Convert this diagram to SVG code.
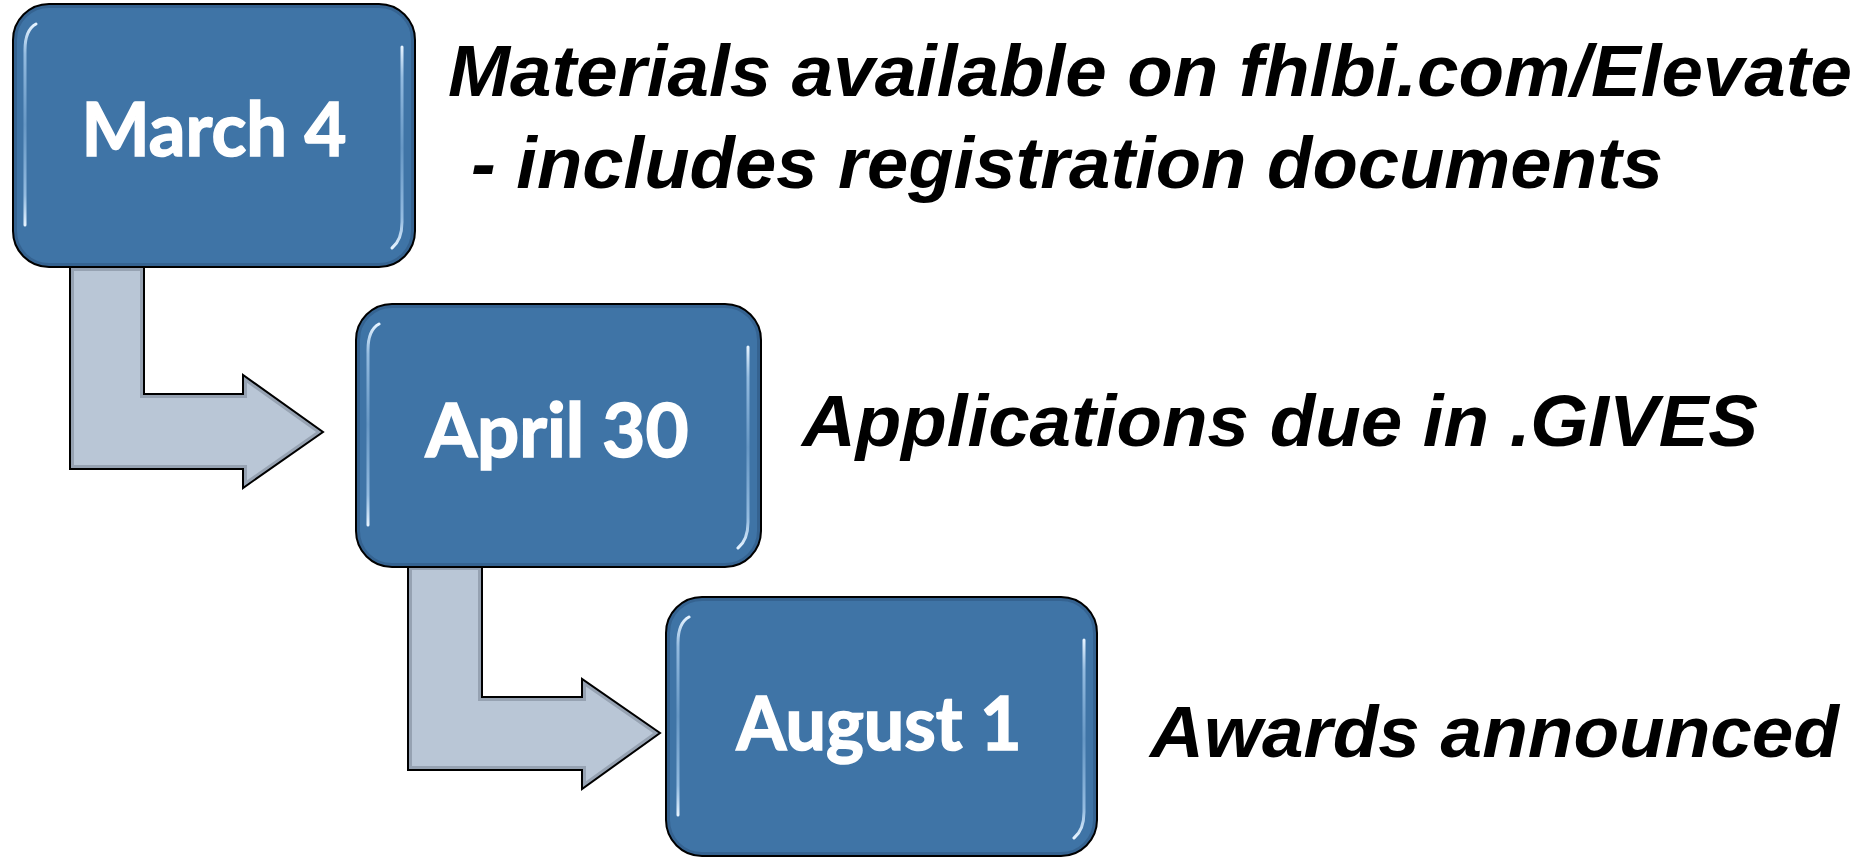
<svg xmlns="http://www.w3.org/2000/svg" width="1862" height="858" viewBox="0 0 1862 858">
<style>
.box{fill:#3F74A6;}
.boxline{fill:none;stroke:#000;stroke-width:2;}
.boxbevel{fill:none;stroke:#2d5680;stroke-width:8;opacity:0.55;}
.hl{fill:none;stroke:url(#hlg);stroke-width:3;stroke-linecap:round;}
.arrow{fill:#B9C6D6;}
.arrowbevel{fill:none;stroke:#7f8b9a;stroke-width:8;opacity:0.6;}
.arrowline{fill:none;stroke:#000;stroke-width:2;stroke-linejoin:miter;}
.lbl{font-family:Lato,"Open Sans","Liberation Sans",sans-serif;font-weight:700;font-size:74px;fill:#fff;stroke:#fff;stroke-width:1.6;text-anchor:middle;}
.desc{font-family:"Liberation Sans",Arial,sans-serif;font-weight:700;font-style:italic;font-size:73px;fill:#000;}
</style>
<defs>
<linearGradient id="hlg" x1="0" y1="0" x2="0" y2="1">
<stop offset="0" stop-color="#e6f3ff" stop-opacity="1"/>
<stop offset="0.15" stop-color="#a9cdee" stop-opacity="0.8"/>
<stop offset="0.5" stop-color="#8fbbe3" stop-opacity="0.5"/>
<stop offset="0.85" stop-color="#a9cdee" stop-opacity="0.8"/>
<stop offset="1" stop-color="#e6f3ff" stop-opacity="1"/>
</linearGradient>
<clipPath id="c1"><rect x="13" y="4" width="402" height="263" rx="36"/></clipPath>
<clipPath id="c2"><rect x="356" y="304" width="405" height="263" rx="36"/></clipPath>
<clipPath id="c3"><rect x="666" y="597" width="431" height="259" rx="36"/></clipPath>
<clipPath id="ca1"><path d="M70,267 L144,267 L144,394 L243,394 L243,375 L323,432 L243,488 L243,469 L70,469 Z"/></clipPath>
<clipPath id="ca2"><path d="M408,566 L482,566 L482,697 L582,697 L582,679 L660,733 L582,789 L582,770 L408,770 Z"/></clipPath>
</defs>

<g id="connectors">
<g id="arrow1">
<path class="arrow" d="M70,267 L144,267 L144,394 L243,394 L243,375 L323,432 L243,488 L243,469 L70,469 Z"/>
<path class="arrowbevel" clip-path="url(#ca1)" d="M70,267 L144,267 L144,394 L243,394 L243,375 L323,432 L243,488 L243,469 L70,469 Z"/>
<path class="arrowline" d="M70,267 L70,469 L243,469 L243,488 L323,432 L243,375 L243,394 L144,394 L144,267"/>
</g>
<g id="arrow2">
<path class="arrow" d="M408,566 L482,566 L482,697 L582,697 L582,679 L660,733 L582,789 L582,770 L408,770 Z"/>
<path class="arrowbevel" clip-path="url(#ca2)" d="M408,566 L482,566 L482,697 L582,697 L582,679 L660,733 L582,789 L582,770 L408,770 Z"/>
<path class="arrowline" d="M408,566 L408,770 L582,770 L582,789 L660,733 L582,679 L582,697 L482,697 L482,566"/>
</g>
</g>

<g id="node-march4">
<rect class="box" x="13" y="4" width="402" height="263" rx="36"/>
<rect class="boxbevel" clip-path="url(#c1)" x="13" y="4" width="402" height="263" rx="36"/>
<path class="hl" d="M36,24 Q25,30 25,50 L25,225"/>
<path class="hl" d="M402,47 L402,222 Q402,240 392,248"/>
<rect class="boxline" x="13" y="4" width="402" height="263" rx="36"/>
<text class="lbl" x="214" y="156" textLength="265" lengthAdjust="spacingAndGlyphs">March 4</text>
</g>

<g id="node-april30">
<rect class="box" x="356" y="304" width="405" height="263" rx="36"/>
<rect class="boxbevel" clip-path="url(#c2)" x="356" y="304" width="405" height="263" rx="36"/>
<path class="hl" d="M379,324 Q368,330 368,350 L368,525"/>
<path class="hl" d="M748,347 L748,522 Q748,540 738,548"/>
<rect class="boxline" x="356" y="304" width="405" height="263" rx="36"/>
<text class="lbl" x="557" y="457" textLength="263" lengthAdjust="spacingAndGlyphs">April 30</text>
</g>

<g id="node-august1">
<rect class="box" x="666" y="597" width="431" height="259" rx="36"/>
<rect class="boxbevel" clip-path="url(#c3)" x="666" y="597" width="431" height="259" rx="36"/>
<path class="hl" d="M689,617 Q678,623 678,643 L678,815"/>
<path class="hl" d="M1084,640 L1084,812 Q1084,830 1074,838"/>
<rect class="boxline" x="666" y="597" width="431" height="259" rx="36"/>
<text class="lbl" x="879" y="750" textLength="285" lengthAdjust="spacingAndGlyphs">August 1</text>
</g>

<g id="descriptions">
<text class="desc" x="448" y="96" textLength="1404" lengthAdjust="spacingAndGlyphs">Materials available on fhlbi.com/Elevate</text>
<text class="desc" x="471" y="188" textLength="1192" lengthAdjust="spacingAndGlyphs">- includes registration documents</text>
<text class="desc" x="802" y="446" textLength="956" lengthAdjust="spacingAndGlyphs">Applications due in .GIVES</text>
<text class="desc" x="1150" y="757" textLength="689" lengthAdjust="spacingAndGlyphs">Awards announced</text>
</g>
</svg>
